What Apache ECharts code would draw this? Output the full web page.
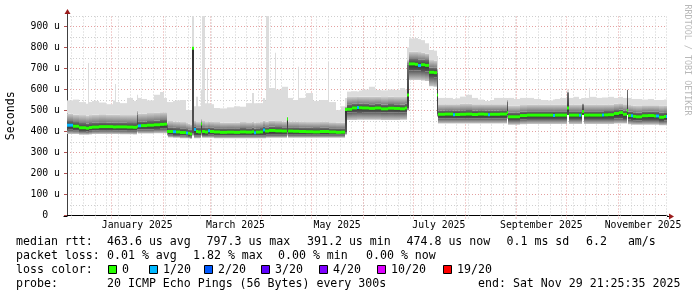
<!DOCTYPE html>
<html><head><meta charset="utf-8">
<script src="https://cdn.jsdelivr.net/npm/echarts@6/dist/echarts.min.js"></script>
<style>html,body{margin:0;padding:0;background:#fff}#c{width:697px;height:297px}</style>
</head><body><div id="c"></div>
<script>
// ---------- data ----------
// day offsets from the left edge of the plot (2024-12-05 10:00 UTC)
const days = [0,3.6,7.2,11.4,12.6,13.4,15,19.2,23.4,27.6,28.8,29.6,31.8,36,39.6,42,42.8,
  44.4,48,52.2,55.8,58.2,59.7,
  60.5,63.6,65.4,67.8,71.4,72.6,73.8,75,76.2,77.4,78.6,80.4,81.2,83,83.8,84.4,85.6,88.2,91.8,96,100.2,103.8,107.4,111,112.2,113.4,115.8,117.6,118.8,119.6,121,124.6,125.6,129,131.8,132.8,135.6,138.4,139.4,143.4,147.6,151.8,156.4,157.4,161.4,164.4,167,
  167.8,171,174,175.2,177,181.2,184.8,188.4,192.6,196.2,199.8,202.8,204,
  205,208.8,210.6,212.4,214.8,217.2,220.2,221.8,
  222.8,226.8,231.6,232.8,235.8,239.4,243,246.6,250.2,252.6,253.8,256.2,259.8,264,264.8,268.2,271.8,276,280.2,284.4,288,291.6,292.8,295.8,300,300.9,304.2,307.2,308.2,309,309.9,312.9,313.8,317.4,320.8,322,324.6,328.2,331.2,333.6,335.8,336.7,338.4,339.6,341.4,345,348.6,352.2,353.4,355.2,358.2,359.4];
// round-trip times in microseconds
const pingMin = [388,388,385,385,385,386,388,388,388,388,388,388,387,387,386,395,390,
  390,390,392,392,392,380,
  372,370,370,368,368,367,365,380,368,368,368,380,370,370,370,370,370,368,368,368,368,368,368,368,368,368,368,368,368,370,370,370,370,370,380,370,370,370,370,370,370,370,370,370,370,370,385,
  455,455,456,456,456,456,456,455,455,455,456,456,500,
  645,645,645,643,640,615,613,470,
  438,438,438,438,438,438,438,438,438,438,438,438,438,460,432,432,435,436,436,436,436,436,436,436,478,436,436,436,436,478,436,436,436,436,436,436,436,438,438,438,478,434,432,432,432,432,432,432,432,430,430,430];
const pingQ1 = [408,406,402,400,400,403,405,406,406,405,405,405,405,404,404,410,410,
  410,410,412,413,413,390,
  385,383,383,382,380,378,375,392,382,382,382,398,383,383,383,384,384,382,382,382,382,382,382,382,382,382,382,382,382,384,384,384,384,384,395,384,384,384,384,384,384,384,384,384,384,384,395,
  490,492,493,493,492,492,492,490,491,490,490,492,510,
  690,690,690,688,686,660,658,480,
  462,462,462,462,462,462,462,462,462,462,462,462,462,475,455,455,458,460,460,460,460,460,460,460,478,460,460,460,460,478,460,460,460,460,460,460,460,462,462,460,478,456,455,453,452,455,455,455,455,450,452,452];
const median = [430,425,418,416,416,419,421,423,423,422,422,422,422,421,420,425,427,
  428,430,432,434,435,400,
  400,399,398,395,393,392,388,797,410,400,398,436,400,398,398,404,400,398,396,397,396,398,397,399,394,397,398,407,402,402,405,403,403,402,459,402,401,401,400,399,398,400,400,398,396,397,505,
  506,512,514,513,512,510,512,508,511,510,508,512,574,
  722,720,714,718,715,682,680,574,
  482,483,480,481,482,483,481,483,482,480,482,482,483,490,470,470,476,478,478,478,478,476,478,478,512,478,478,477,478,495,478,478,478,478,478,479,480,486,490,482,500,476,475,472,470,475,476,474,474,468,472,472];
const pingQ3 = [450,445,440,438,438,440,442,444,443,442,442,442,442,441,440,480,447,
  448,450,452,455,455,435,
  420,418,417,415,412,410,408,800,425,418,418,440,420,418,418,420,418,416,415,416,415,417,416,418,414,416,417,425,420,420,424,422,422,420,462,420,420,420,418,418,417,418,418,416,415,415,510,
  530,532,534,533,532,530,532,528,531,530,528,532,720,
  745,745,742,742,740,705,703,680,
  500,501,500,500,501,502,500,501,500,500,500,500,501,542,490,490,495,497,497,497,497,496,497,497,583,497,497,496,497,526,497,497,497,497,497,498,498,502,505,500,598,495,494,492,490,494,495,494,494,490,492,492];
const pingP90 = [485,480,478,475,475,478,480,482,480,480,480,480,478,478,478,500,485,
  486,488,490,492,492,440,
  450,448,447,445,440,438,435,805,450,445,445,460,450,445,445,448,446,445,442,442,442,445,444,446,442,444,445,452,448,448,452,450,450,448,470,448,448,448,446,445,445,446,446,444,443,443,520,
  565,565,567,566,566,566,566,564,566,565,565,566,740,
  780,780,778,776,772,740,738,700,
  530,530,530,530,532,532,530,530,530,530,530,530,530,550,522,522,526,528,528,528,528,528,528,528,590,528,528,528,528,535,528,528,528,528,528,528,528,532,534,530,600,526,525,523,522,525,525,525,525,522,524,524];
const pingMax = [548,552,540,532,726,540,545,538,530,548,626,540,535,560,545,575,560,
  555,548,575,588,560,540,
  540,545,548,550,502,502,502,950,520,566,520,600,950,535,700,535,530,512,510,515,520,518,535,583,535,535,535,560,545,950,607,775,600,613,613,560,550,708,560,583,545,550,732,540,502,520,560,
  590,592,590,595,600,613,598,596,600,598,607,600,800,
  843,845,840,835,820,788,785,760,
  560,560,555,558,566,575,560,552,545,545,550,560,560,560,560,555,560,560,555,550,548,552,555,560,600,560,565,555,558,560,560,607,565,560,562,562,565,560,565,560,600,560,555,555,555,552,555,550,550,550,552,552];
// lost pings out of 20 for each step
const lossPings = [1,0,0,0,0,0,0,0,0,0,0,0,0,0,0,0,1,
  0,0,0,0,0,0,
  0,1,0,0,1,0,0,0,1,0,0,0,0,0,0,1,0,0,0,0,0,0,0,0,1,0,0,1,0,0,0,0,0,0,0,0,0,0,0,0,0,0,0,0,0,0,0,
  0,0,1,0,0,0,0,0,0,0,0,0,0,
  0,0,1,0,0,0,0,0,
  0,0,1,0,0,0,0,0,0,1,0,0,0,0,0,0,0,0,0,0,0,1,0,0,0,0,0,1,0,0,0,0,0,0,1,0,0,0,0,0,0,0,1,0,0,0,0,0,1,0,0,1,0];

const monthLabels = ['January 2025','March 2025','May 2025','July 2025','September 2025','November 2025'];
const monthLabelAt = ['2025-01-16T12:00:00Z','2025-03-16T12:00:00Z','2025-05-16T12:00:00Z','2025-07-16T12:00:00Z','2025-09-16T00:00:00Z','2025-11-16T00:00:00Z'];
const monthStarts = ['2025-01-01','2025-02-01','2025-03-01','2025-04-01','2025-05-01','2025-06-01','2025-07-01','2025-08-01','2025-09-01','2025-10-01','2025-11-01'];
const lossLegendLabels = ['0','1/20','2/20','3/20','4/20','10/20','19/20'];
const lossLegendColors = ['#26ff00','#00b8ff','#0059ff','#5e00ff','#7e00ff','#dd00ff','#ff0000'];
const lossSteps = [0,1,2,3,4,10,19];
const statRows = [
  [['median rtt:',16],['463.6 us avg',107],['797.3 us max',206.5],['391.2 us min',307],['474.8 us now',406.5],['0.1 ms sd',506.5],['6.2   am/s',586]],
  [['packet loss:',16],['0.01 % avg',107],['1.82 % max',193],['0.00 % min',278],['0.00 % now',366]],
  [['loss color:',16]],
  [['probe:',16],['20 ICMP Echo Pings (56 Bytes) every 300s',107],['end: Sat Nov 29 21:25:35 2025',478]]
];

// ---------- setup ----------
const DAY = 86400000;
const axisStart = Date.UTC(2024, 11, 5, 10, 0, 0);
const axisEnd = axisStart + 360 * DAY;
const MONO = "'DejaVu Sans Mono', monospace";

function lossColor(n) {
  let c = lossLegendColors[0];
  for (let i = 0; i < lossSteps.length; i++) if (n >= lossSteps[i]) c = lossLegendColors[i];
  return c;
}

const smokeData = days.map((d, i) => [
  axisStart + d * DAY,
  axisStart + (i + 1 < days.length ? days[i + 1] : 360) * DAY,
  pingMin[i], pingQ1[i], median[i], pingQ3[i], pingP90[i], pingMax[i], lossPings[i]
]);

const weekLines = [];
for (let t = Date.UTC(2024, 11, 8); t < axisEnd; t += 7 * DAY) weekLines.push([t, 0]);
const monthLines = monthStarts.map(s => [Date.parse(s + 'T00:00:00Z'), 0]);

const G = echarts.graphic;
const bandFills = [
  new G.LinearGradient(0, 0, 0, 1, [{offset: 0, color: '#5a5a5a'}, {offset: 1, color: '#c8c8c8'}]),
  new G.LinearGradient(0, 0, 0, 1, [{offset: 0, color: '#2e2e2e'}, {offset: 1, color: '#565656'}]),
  new G.LinearGradient(0, 0, 0, 1, [{offset: 0, color: '#707070'}, {offset: 1, color: '#3a3a3a'}]),
  new G.LinearGradient(0, 0, 0, 1, [{offset: 0, color: '#cecece'}, {offset: 1, color: '#7c7c7c'}]),
  '#dcdcdc'
];

function smokeItem(params, api) {
  const t0 = api.value(0), t1 = api.value(1);
  const xa = Math.round(api.coord([t0, 0])[0]);
  let w = Math.round(api.coord([t1, 0])[0]) - xa;
  if (w < 1) w = 1;
  const ys = [2, 3, 4, 5, 6, 7].map(k => api.coord([t0, api.value(k)])[1]);
  const children = [];
  for (let k = 0; k < 5; k++) {
    const top = ys[k + 1], bot = ys[k];
    if (bot - top <= 0) continue;
    children.push({type: 'rect', shape: {x: xa, y: top, width: w, height: bot - top},
      style: {fill: bandFills[k]}});
  }
  return {type: 'group', children};
}
function medianItem(params, api) {
  const t0 = api.value(0), t1 = api.value(1);
  const xa = Math.round(api.coord([t0, 0])[0]);
  let w = Math.round(api.coord([t1, 0])[0]) - xa;
  if (w < 1) w = 1;
  const y = api.coord([t0, api.value(4)])[1];
  return {type: 'rect', shape: {x: xa, y: y - 1.5, width: w, height: 3},
    style: {fill: lossColor(api.value(8))}};
}
function gridLineItem(color, ext) {
  return function (params, api) {
    const p = api.coord([api.value(0), 0]);
    const top = api.coord([api.value(0), 950])[1];
    const x = Math.round(p[0]) + 0.5;
    return {type: 'line', shape: {x1: x, y1: p[1] + ext, x2: x, y2: top},
      style: {stroke: color, lineWidth: 1, lineDash: [1, 2]}};
  };
}
function monthLabelItem(params, api) {
  const p = api.coord([api.value(0), 0]);
  return {type: 'text', x: p[0], y: p[1] + 5,
    style: {text: monthLabels[params.dataIndex], font: '9.8px ' + MONO, fill: '#000',
      align: 'center', verticalAlign: 'top'}};
}

const chart = echarts.init(document.getElementById('c'), null, {renderer: 'canvas'});

const graphics = [];
const rowY = [241.5, 255.5, 269.5, 284];
statRows.forEach((row, r) => row.forEach(([txt, x]) => graphics.push({
  type: 'text', x: x, y: rowY[r],
  style: {text: txt, font: '11.6px ' + MONO, fill: '#000', verticalAlign: 'middle'}
})));
const sqX = [108, 149, 204, 261, 319, 377, 443];
lossLegendLabels.forEach((lab, i) => {
  graphics.push({type: 'rect', shape: {x: sqX[i] + 0.5, y: 265.5, width: 8, height: 8},
    style: {fill: lossLegendColors[i], stroke: '#000', lineWidth: 1}});
  graphics.push({type: 'text', x: sqX[i] + 14, y: rowY[2],
    style: {text: lab, font: '11.6px ' + MONO, fill: '#000', verticalAlign: 'middle'}});
});
graphics.push({type: 'text', x: 687, y: 60, rotation: -Math.PI / 2,
  style: {text: 'RRDTOOL / TOBI OETIKER', font: '8.4px ' + MONO, fill: '#b8b8b8',
    align: 'center', verticalAlign: 'middle'}});

chart.setOption({
  animation: false,
  backgroundColor: '#ffffff',
  grid: [
    {left: 67, width: 600, top: 16, height: 199.5, outerBoundsMode: 'none'},
    {left: 67, width: 600, top: 26.5, height: 189, outerBoundsMode: 'none'}
  ],
  xAxis: [
    {type: 'time', gridIndex: 0, min: axisStart, max: axisEnd,
      axisLine: {show: true, lineStyle: {color: '#000', width: 1}},
      axisTick: {show: false}, axisLabel: {show: false}, splitLine: {show: false}},
    {type: 'time', gridIndex: 1, min: axisStart, max: axisEnd, show: false}
  ],
  yAxis: [
    {type: 'value', gridIndex: 0, min: 0, max: 950, interval: 50,
      name: 'Seconds', nameLocation: 'middle', nameGap: 50, nameRotate: 90,
      nameTextStyle: {fontFamily: MONO, fontSize: 11.6, color: '#000'},
      axisLine: {show: true, lineStyle: {color: '#404040', width: 1}},
      axisTick: {show: false}, axisLabel: {show: false},
      splitLine: {show: true, lineStyle: {color: '#cfcfcf', type: [1, 2], width: 1}}},
    {type: 'value', gridIndex: 1, min: 0, max: 900, interval: 100,
      axisLine: {show: false},
      axisTick: {show: true, length: 3, lineStyle: {color: '#b05050'}},
      axisLabel: {show: true, margin: 7, fontFamily: MONO, fontSize: 9.8, color: '#000',
        formatter: v => v === 0 ? '0  ' : v + ' u'},
      splitLine: {show: true, lineStyle: {color: '#e4a0a0', type: [1, 2], width: 1}}}
  ],
  series: [
    {type: 'custom', name: 'weeks', xAxisIndex: 0, yAxisIndex: 0, z: 1, silent: true,
      renderItem: gridLineItem('#cfcfcf', 3), data: weekLines, clip: false},
    {type: 'custom', name: 'months', xAxisIndex: 0, yAxisIndex: 0, z: 1, silent: true,
      renderItem: gridLineItem('#e4a0a0', 3), data: monthLines, clip: false},
    {type: 'custom', name: 'smoke', xAxisIndex: 0, yAxisIndex: 0, z: 3, silent: true,
      renderItem: smokeItem, data: smokeData, encode: {x: [0, 1], y: [2, 7]}},
    {type: 'custom', name: 'median rtt', xAxisIndex: 0, yAxisIndex: 0, z: 4, silent: true,
      renderItem: medianItem, data: smokeData, encode: {x: [0, 1], y: 4}},
    {type: 'custom', name: 'month labels', xAxisIndex: 0, yAxisIndex: 0, z: 4, silent: true,
      renderItem: monthLabelItem, clip: false,
      data: monthLabelAt.map(s => [Date.parse(s), 0])}
  ],
  graphic: graphics
});

// axis arrows, placed from the axis scales
const pTopLeft = chart.convertToPixel({gridIndex: 0}, [axisStart, 950]);
const pBotRight = chart.convertToPixel({gridIndex: 0}, [axisEnd, 0]);
const ax = Math.round(pTopLeft[0]) + 0.5, ay = pTopLeft[1];
const bx = pBotRight[0], by = Math.round(pBotRight[1]) + 0.5;
chart.setOption({graphic: graphics.concat([
  {type: 'line', shape: {x1: ax, y1: ay, x2: ax, y2: ay - 3}, style: {stroke: '#404040', lineWidth: 1}},
  {type: 'polygon', shape: {points: [[ax, ay - 7], [ax - 3, ay - 2], [ax + 3, ay - 2]]}, style: {fill: '#9b1c1c'}},
  {type: 'line', shape: {x1: bx, y1: by, x2: bx + 2, y2: by}, style: {stroke: '#000', lineWidth: 1}},
  {type: 'line', shape: {x1: ax - 4, y1: by, x2: ax, y2: by}, style: {stroke: '#000', lineWidth: 1}},
  {type: 'polygon', shape: {points: [[bx + 7, by], [bx + 2, by - 3], [bx + 2, by + 3]]}, style: {fill: '#9b1c1c'}}
])});
</script></body></html>
